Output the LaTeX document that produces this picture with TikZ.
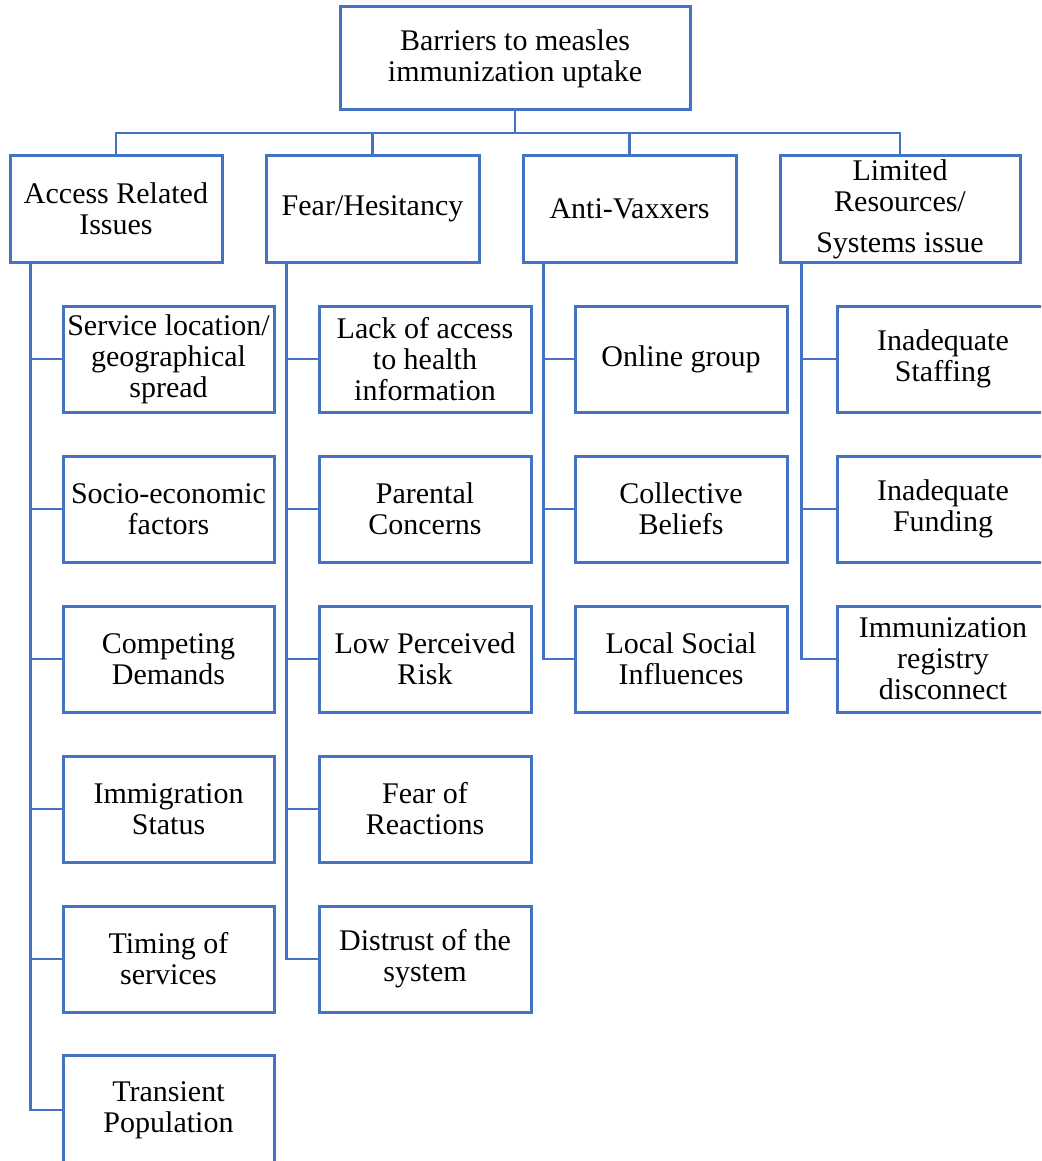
\documentclass[tikz,border=0pt]{standalone}
\usepackage{fontspec}
\setmainfont{Liberation Serif}
\definecolor{boxblue}{RGB}{68,114,196}
\begin{document}
\begin{tikzpicture}[x=1pt,y=-1pt,
  box/.style={draw=boxblue,line width=3pt,fill=white,inner sep=0pt,align=center,
    minimum height=106pt,font=\fontsize{30}{31}\selectfont},
  link/.style={draw=boxblue,line width=2.5pt}]
\useasboundingbox (0,0) rectangle (1041,1161);
\clip (0,0) rectangle (1041,1161);
\coordinate (bus) at (0,133);
% root
\node[box,minimum width=350pt,minimum height=103pt] (root) at (515,58.5) {Barriers to measles\\immunization uptake};
% level 1
\node[box,minimum width=212pt] (A) at (116,209) {Access Related\\Issues};
\node[box,minimum width=213pt] (B) at (372.5,209) {Fear/Hesitancy};
\node[box,minimum width=213pt] (C) at (629.5,209) {Anti-Vaxxers};
\node[box,minimum width=240pt] (D) at (900,209) {Limited\\Resources/\\[10pt]Systems issue};
% column A
\node[box,minimum width=211pt] (A1) at (168.5,359) {Service location/\\geographical\\spread};
\node[box,minimum width=211pt] (A2) at (168.5,509) {Socio-economic\\factors};
\node[box,minimum width=211pt] (A3) at (168.5,659) {Competing\\Demands};
\node[box,minimum width=211pt] (A4) at (168.5,809) {Immigration\\Status};
\node[box,minimum width=211pt] (A5) at (168.5,959) {Timing of\\services};
\node[box,minimum width=211pt,minimum height=110pt] (A6) at (168.5,1110) {Transient\\Population};
% column B
\node[box,minimum width=212pt] (B1) at (425,359) {Lack of access\\to health\\information};
\node[box,minimum width=212pt] (B2) at (425,509) {Parental\\Concerns};
\node[box,minimum width=212pt] (B3) at (425,659) {Low Perceived\\Risk};
\node[box,minimum width=212pt] (B4) at (425,809) {Fear of\\Reactions};
\node[box,minimum width=212pt] (B5) at (425,959) {Distrust of the\\system};
% column C
\node[box,minimum width=212pt] (C1) at (681,359) {Online group};
\node[box,minimum width=212pt] (C2) at (681,509) {Collective\\Beliefs};
\node[box,minimum width=212pt] (C3) at (681,659) {Local Social\\Influences};
% column D
\node[box,minimum width=212pt] (D1) at (943,359) {Inadequate\\Staffing};
\node[box,minimum width=212pt] (D2) at (943,509) {Inadequate\\Funding};
\node[box,minimum width=212pt] (D3) at (943,659) {Immunization\\registry\\disconnect};
% top connectors
\draw[link] (root.south) -- (root.south |- bus);
\draw[link] (A.north) -- (A.north |- bus) -- (D.north |- bus) -- (D.north);
\draw[link] (B.north) -- (B.north |- bus);
\draw[link] (C.north) -- (C.north |- bus);
% trunks
\draw[link] ([xshift=22pt]A.south west) coordinate (tA) |- (A6.west);
\foreach \n in {A1,A2,A3,A4,A5} \draw[link] (tA |- \n.west) -- (\n.west);
\draw[link] ([xshift=22pt]B.south west) coordinate (tB) |- (B5.west);
\foreach \n in {B1,B2,B3,B4} \draw[link] (tB |- \n.west) -- (\n.west);
\draw[link] ([xshift=22pt]C.south west) coordinate (tC) |- (C3.west);
\foreach \n in {C1,C2} \draw[link] (tC |- \n.west) -- (\n.west);
\draw[link] ([xshift=23pt]D.south west) coordinate (tD) |- (D3.west);
\foreach \n in {D1,D2} \draw[link] (tD |- \n.west) -- (\n.west);
\end{tikzpicture}
\end{document}
